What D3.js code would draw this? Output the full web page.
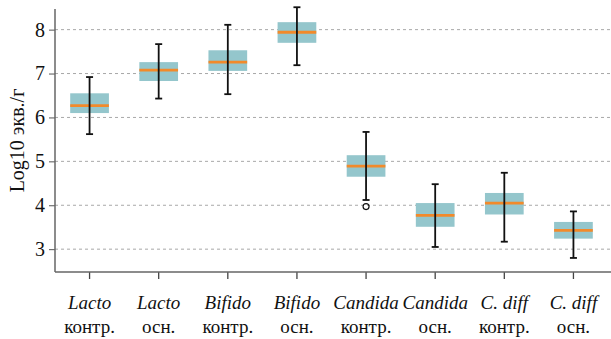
<!DOCTYPE html>
<html>
<head>
<meta charset="utf-8">
<script src="https://cdn.jsdelivr.net/npm/d3@7"></script>
<style>
  body { margin: 0; background: #fff; }
  svg text { font-family: "Liberation Serif", "Times New Roman", Times, serif; fill: #111; }
</style>
</head>
<body>
<div id="chart"></div>
<script>
// данные (читаются с рисунка)
const genus = ["Lacto", "Lacto", "Bifido", "Bifido", "Candida", "Candida", "C. diff", "C. diff"];
const group = ["контр.", "осн.", "контр.", "осн.", "контр.", "осн.", "контр.", "осн."];
const whiskerLow = [5.62, 6.43, 6.53, 7.19, 4.12, 3.05, 3.17, 2.80];
const q1 = [6.10, 6.83, 7.06, 7.70, 4.65, 3.51, 3.79, 3.24];
const median = [6.27, 7.08, 7.26, 7.94, 4.89, 3.77, 4.05, 3.43];
const q3 = [6.55, 7.26, 7.53, 8.17, 5.14, 4.05, 4.28, 3.62];
const whiskerHigh = [6.92, 7.67, 8.11, 8.51, 5.67, 4.48, 4.74, 3.86];
const outliers = [[], [], [], [], [3.97], [], [], []];
const yTicks = [3, 4, 5, 6, 7, 8];

const width = 611, height = 339;
const mLeft = 55, mTop = 9, mBottom = 272;

const svg = d3.select("#chart").append("svg")
  .attr("width", width)
  .attr("height", height);

const ids = d3.range(genus.length);

// X: категории
const x = d3.scaleBand()
  .domain(ids)
  .range([mLeft, 608])
  .paddingInner(0.44)
  .paddingOuter(0.22);

// Y: логарифм
const y = d3.scaleLinear()
  .domain([2.48, 8.47])
  .range([mBottom, mTop]);

// сетка
svg.append("g")
  .selectAll("line")
  .data(yTicks)
  .enter()
  .append("line")
  .attr("x1", mLeft)
  .attr("x2", width)
  .attr("y1", d => y(d))
  .attr("y2", d => y(d))
  .attr("stroke", "#a8a8a8")
  .attr("stroke-width", 1)
  .attr("stroke-dasharray", "3,3");

// оси
const yAxis = svg.append("g")
  .attr("transform", `translate(${mLeft},0)`)
  .call(d3.axisLeft(y).tickValues(yTicks).tickSize(6).tickPadding(4).tickFormat(d3.format("d")));
yAxis.attr("font-family", null).attr("font-size", null);
yAxis.select(".domain").remove();
yAxis.selectAll(".tick line").attr("stroke", "#555");
yAxis.selectAll("text").style("font-size", "20px").attr("fill", "#111");

const xAxis = svg.append("g")
  .attr("transform", `translate(0,${mBottom})`)
  .call(d3.axisBottom(x).tickSize(7).tickFormat(""));
xAxis.select(".domain").remove();
xAxis.selectAll(".tick line").attr("stroke", "#444").attr("stroke-width", 1.3);

svg.append("line")
  .attr("x1", mLeft).attr("x2", mLeft)
  .attr("y1", mTop).attr("y2", mBottom)
  .attr("stroke", "#666").attr("stroke-width", 1.5);
svg.append("line")
  .attr("x1", mLeft).attr("x2", width)
  .attr("y1", mBottom).attr("y2", mBottom)
  .attr("stroke", "#666").attr("stroke-width", 1.5);

// подписи по X
const labels = svg.append("g");
ids.forEach(i => {
  const cx = x(i) + x.bandwidth() / 2;
  labels.append("text")
    .attr("x", cx).attr("y", 309)
    .attr("text-anchor", "middle")
    .style("font-size", "19px")
    .style("font-style", "italic")
    .text(genus[i]);
  labels.append("text")
    .attr("x", cx).attr("y", 333)
    .attr("text-anchor", "middle")
    .style("font-size", "19px")
    .text(group[i]);
});

// подпись оси Y
svg.append("text")
  .attr("text-anchor", "middle")
  .attr("transform", `translate(24, ${(mTop + mBottom) / 2}) rotate(-90)`)
  .style("font-size", "20px")
  .text("Log10 экв./г");

// боксы
const boxes = svg.append("g")
  .selectAll("g")
  .data(ids)
  .enter()
  .append("g");

boxes.append("rect")
  .attr("x", i => x(i))
  .attr("y", i => y(q3[i]))
  .attr("width", x.bandwidth())
  .attr("height", i => y(q1[i]) - y(q3[i]))
  .attr("fill", "#94c6cc");

boxes.append("line")
  .attr("x1", i => x(i))
  .attr("x2", i => x(i) + x.bandwidth())
  .attr("y1", i => y(median[i]))
  .attr("y2", i => y(median[i]))
  .attr("stroke", "#f28a2b")
  .attr("stroke-width", 2.8);

const cx = i => x(i) + x.bandwidth() / 2;

boxes.append("line")
  .attr("x1", cx).attr("x2", cx)
  .attr("y1", i => y(whiskerLow[i]))
  .attr("y2", i => y(whiskerHigh[i]))
  .attr("stroke", "#111")
  .attr("stroke-width", 1.8);

[whiskerLow, whiskerHigh].forEach(arr => {
  boxes.append("line")
    .attr("x1", i => cx(i) - 3.5)
    .attr("x2", i => cx(i) + 3.5)
    .attr("y1", i => y(arr[i]))
    .attr("y2", i => y(arr[i]))
    .attr("stroke", "#111")
    .attr("stroke-width", 1.8);
});

// выбросы
boxes.selectAll("circle")
  .data(i => outliers[i].map(v => ({ i, v })))
  .enter()
  .append("circle")
  .attr("cx", d => cx(d.i))
  .attr("cy", d => y(d.v))
  .attr("r", 3)
  .attr("fill", "none")
  .attr("stroke", "#111")
  .attr("stroke-width", 1.2);
</script>
</body>
</html>
